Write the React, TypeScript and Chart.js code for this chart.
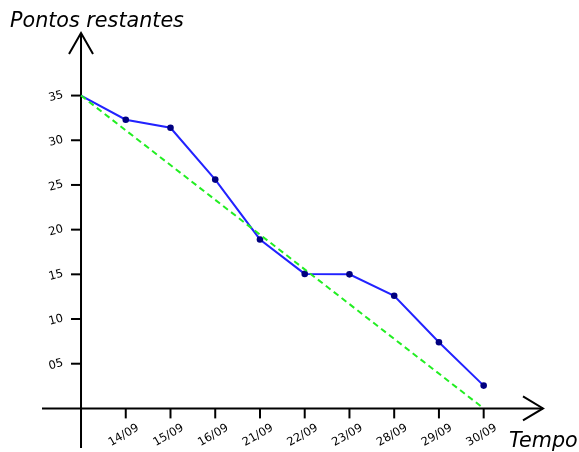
import React, { useEffect, useRef } from "react";
import { Chart, registerables } from "chart.js";

Chart.register(...registerables);

const categories = ["14/09", "15/09", "16/09", "21/09", "22/09", "23/09", "28/09", "29/09", "30/09"];
const startPoints = 35;
const remaining = [32.3, 31.4, 25.6, 18.9, 15.05, 15.0, 12.6, 7.4, 2.55];
const yTickValues = [5, 10, 15, 20, 25, 30, 35];
const yTickLabels = ["05", "10", "15", "20", "25", "30", "35"];
const yTitle = "Pontos restantes";
const xTitle = "Tempo";

const FONT = "'DejaVu Sans', sans-serif";

const axesPlugin = {
  id: "customAxes",
  beforeDatasetsDraw(chart: any) {
    const ctx = chart.ctx;
    const xs = chart.scales.x;
    const ys = chart.scales.y;
    const ox = xs.getPixelForValue(0);
    const oy = ys.getPixelForValue(0);
    const area = chart.chartArea;
    ctx.save();
    ctx.strokeStyle = "#000";
    ctx.lineWidth = 2;
    ctx.lineCap = "butt";
    // x axis
    ctx.beginPath();
    ctx.moveTo(area.left, oy);
    ctx.lineTo(area.right, oy);
    ctx.stroke();
    // x arrow
    ctx.beginPath();
    ctx.moveTo(area.right - 20, oy - 12);
    ctx.lineTo(area.right, oy);
    ctx.lineTo(area.right - 20, oy + 12);
    ctx.stroke();
    // y axis
    ctx.beginPath();
    ctx.moveTo(ox, area.bottom);
    ctx.lineTo(ox, area.top);
    ctx.stroke();
    // y arrow
    ctx.beginPath();
    ctx.moveTo(ox - 12, area.top + 21);
    ctx.lineTo(ox, area.top);
    ctx.lineTo(ox + 12, area.top + 21);
    ctx.stroke();

    // y ticks
    ctx.fillStyle = "#000";
    ctx.font = `11.5px ${FONT}`;
    yTickValues.forEach((v, i) => {
      const py = ys.getPixelForValue(v);
      ctx.beginPath();
      ctx.moveTo(ox - 10, py);
      ctx.lineTo(ox, py);
      ctx.stroke();
      ctx.save();
      ctx.translate(ox - 25, py + 1);
      ctx.rotate((-15 * Math.PI) / 180);
      ctx.textAlign = "center";
      ctx.textBaseline = "middle";
      ctx.fillText(yTickLabels[i], 0, 0);
      ctx.restore();
    });

    // x ticks
    ctx.font = `11.5px ${FONT}`;
    categories.forEach((c, i) => {
      const px = xs.getPixelForValue(i + 1);
      ctx.beginPath();
      ctx.moveTo(px, oy);
      ctx.lineTo(px, oy + 10);
      ctx.stroke();
      ctx.save();
      ctx.translate(px - 2, oy + 27);
      ctx.rotate((-30 * Math.PI) / 180);
      ctx.textAlign = "center";
      ctx.textBaseline = "middle";
      ctx.fillText(c, 0, 0);
      ctx.restore();
    });

    // titles
    ctx.font = `italic 20.7px ${FONT}`;
    ctx.textAlign = "left";
    ctx.textBaseline = "alphabetic";
    ctx.fillText(yTitle, 10, 27);
    ctx.fillText(xTitle, 509, 447);
    ctx.restore();
  },
};

export default function App() {
  const ref = useRef<HTMLCanvasElement | null>(null);
  useEffect(() => {
    document.body.style.margin = "0";
    const canvas = ref.current;
    if (!canvas) return;
    const actual = [{ x: 0, y: startPoints }, ...remaining.map((v, i) => ({ x: i + 1, y: v }))];
    const ideal = [
      { x: 0, y: startPoints },
      { x: categories.length, y: 0 },
    ];
    const chart = new Chart(canvas, {
      type: "line",
      data: {
        datasets: [
          {
            data: ideal,
            borderColor: "#22ee22",
            borderWidth: 2,
            borderDash: [6, 4],
            pointRadius: 0,
            fill: false,
            tension: 0,
            clip: false as any,
          },
          {
            data: actual,
            borderColor: "#2222ff",
            borderWidth: 2,
            pointRadius: actual.map((_, i) => (i === 0 ? 0 : 3.3)),
            pointBackgroundColor: "#000080",
            pointBorderColor: "#000080",
            pointBorderWidth: 0,
            fill: false,
            tension: 0,
            clip: false as any,
          },
        ],
      },
      options: {
        responsive: false,
        animation: false,
        layout: { padding: { left: 42, right: 36, top: 33, bottom: 2 } },
        plugins: { legend: { display: false }, tooltip: { enabled: false } },
        scales: {
          x: { type: "linear", display: false, min: -0.872, max: 10.326 },
          y: { type: "linear", display: false, min: -4.43, max: 42.0 },
        },
      },
      plugins: [axesPlugin],
    });
    return () => chart.destroy();
  }, []);
  return <canvas ref={ref} width={579} height={452} style={{ display: "block" }} />;
}
